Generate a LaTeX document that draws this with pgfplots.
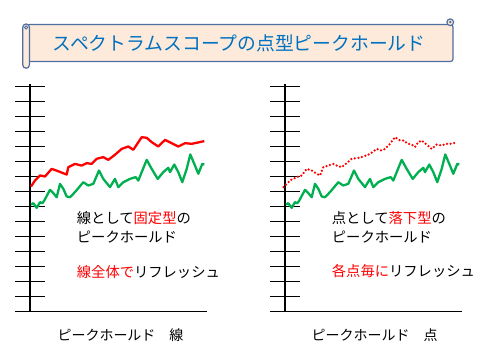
\documentclass[border=0pt]{standalone}
\usepackage{fontspec}
\setmainfont{Noto Sans CJK JP}
\usepackage{pgfplots}
\pgfplotsset{compat=1.18}
\usepackage{pgfplotstable}
\definecolor{pgreen}{HTML}{00B050}
\definecolor{pred}{HTML}{FF0000}
\definecolor{tblue}{HTML}{0070C0}
\definecolor{bfill}{HTML}{FDEADA}
\definecolor{bline}{HTML}{4F6FA0}

\pgfplotstableread{
x y
1 7.13
3.3 7.22
6.7 6.91
10 7.29
12.3 7.22
14.3 7.4
20 8.11
23.3 7.89
26.7 7.62
30 8.51
33.3 8.18
36.7 7.67
40 7.62
45 7.96
53.3 8.62
58.3 8.4
63.3 8.51
69 9.4
73.3 8.84
80 8.29
85 8.84
88.3 8.29
93.3 8.62
100 8.84
105.7 8.96
108.3 8.73
111.7 9.29
116.7 10.11
121.7 9.51
127.7 8.84
133.3 9.29
138.3 9.58
140 9.29
144.3 9.8
148.3 9.29
152.3 8.62
156.7 9.51
160.3 10.47
164.3 9.84
168.3 9.18
172.3 9.84
174.3 9.8
}\greenline

\pgfplotstableread{
x y
1 8.33
5 8.73
10 9.07
15 9.0
21.7 9.51
28.3 9.35
36.7 9.13
38.3 9.62
45 9.84
51.7 9.73
56.7 9.89
61.7 9.84
66.7 10.18
73.3 10.29
78.3 10.11
85 10.45
91.7 10.84
98.3 11.0
103.3 10.78
111.7 11.62
116.7 11.58
121.7 11.29
128.3 11.0
135 11.44
141.7 11.22
148.3 11.0
155 11.22
161.7 11.18
168.3 11.27
174.3 11.36
}\redline

\pgfplotstableread{
x y
-1.5 8.29
5 8.73
11.7 8.96
16.7 9.07
21.7 9.51
26.7 9.4
31.7 9.18
35 9.07
38.3 9.62
43.3 9.73
48.3 9.84
51.7 9.73
56.7 9.62
61.7 9.89
66.7 10.18
73.3 10.24
78.3 10.33
85 10.51
91.7 10.84
96.7 10.73
100 10.84
105 11.18
110 11.62
115 11.4
118.3 11.4
123.3 11.18
126.7 11.13
130 10.96
133.3 11.29
136.7 11.4
141.7 11.13
146.7 10.84
151.7 11.13
156.7 11.07
161.7 11.18
166.7 11.18
171.7 11.29
}\reddots

\pgfplotsset{
  peakax/.style={
    anchor=south west,
    scale only axis, width=192pt, height=228pt,
    xmin=-15, xmax=177, ymin=0, ymax=15.2,
    axis lines=middle,
    axis line style={-, line width=1.8pt, black},
    every inner x axis line/.append style={-},
    every inner y axis line/.append style={-},
    every outer x axis line/.append style={-},
    every outer y axis line/.append style={-},
    xtick=\empty, ytick={1,...,15}, yticklabels={},
    tick align=center, major tick length=30pt,
    every tick/.style={black, line width=1.8pt},
    clip=false,
  }
}

\begin{document}
\begin{tikzpicture}
\path[use as bounding box] (0pt,0pt) rectangle (480pt,360pt);
\fill[white] (0pt,0pt) rectangle (480pt,360pt);

% banner
\draw[bline, line width=1.2pt, fill=bfill, rounded corners=2.5pt] (27pt,335.5pt) rectangle (453pt,298.5pt);
\draw[bline, line width=1.2pt, fill=bfill, rounded corners=3.2pt] (22.8pt,336pt) rectangle (29.4pt,291.8pt);
\draw[bline, line width=0.8pt] (26.1pt,332.5pt) circle (1.6pt);
\draw[bline, line width=1.2pt, fill=bfill, rounded corners=3pt] (447pt,341pt) rectangle (453.5pt,334.5pt);
\fill[bline] (450.2pt,338pt) circle (1.3pt);
\node[text=tblue, inner sep=0pt] at (239pt,317pt) {\fontsize{18.8}{20}\selectfont スペクトラムスコープの点型ピークホールド};

\begin{axis}[peakax, at={(15pt,48.5pt)}]
\addplot[pred, line width=2.3pt, line join=round, mark=none] table {\redline};
\addplot[pgreen, line width=2.3pt, line join=round, mark=none] table {\greenline};
\end{axis}

\begin{axis}[peakax, at={(270pt,48.5pt)}]
\addplot[pred, line width=2.5pt, line cap=round, dash pattern=on 0pt off 3.6pt, mark=none] table {\reddots};
\addplot[pgreen, line width=2.3pt, line join=round, mark=none] table {\greenline};
\end{axis}

\begin{scope}[every node/.style={inner sep=0pt, anchor=west, font=\fontsize{14.3}{16}\selectfont}]
\node at (76.7pt,142pt) {線として\textcolor{pred}{固定型}の};
\node at (76.7pt,123.3pt) {ピークホールド};
\node at (76.7pt,88.3pt) {\textcolor{pred}{線全体で}リフレッシュ};
\node at (331.7pt,142pt) {点として\textcolor{pred}{落下型}の};
\node at (331.7pt,123.3pt) {ピークホールド};
\node at (331.7pt,88.8pt) {\textcolor{pred}{各点毎に}リフレッシュ};
\end{scope}
\node[inner sep=0pt, font=\fontsize{14}{16}\selectfont] at (120.5pt,25pt) {ピークホールド　線};
\node[inner sep=0pt, font=\fontsize{14}{16}\selectfont] at (374.5pt,25pt) {ピークホールド　点};
\end{tikzpicture}
\end{document}
